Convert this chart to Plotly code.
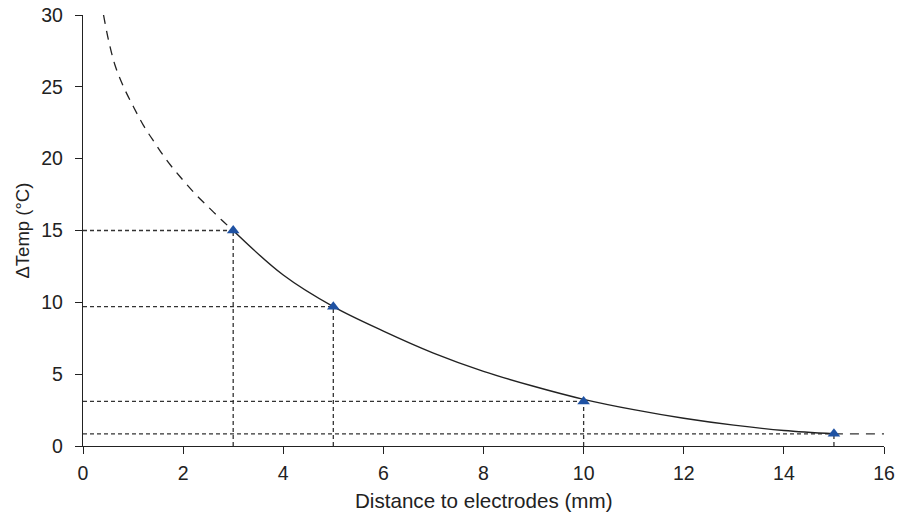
import plotly.graph_objects as go

# Measured temperature rise at each distance from the electrodes
distance_mm = [3, 5, 10, 15]
delta_temp = [15.0, 9.7, 3.1, 0.85]

# Fitted decay curve: extrapolated (near field), fitted, extrapolated (far field)
near_x = [0.41, 0.51, 0.64, 0.81, 1.01, 1.21, 1.44, 1.67, 1.94, 2.24, 2.5, 2.77, 3.0]
near_y = [30.0, 28.25, 26.5, 25.0, 23.6, 22.3, 21.07, 19.9, 18.74, 17.55, 16.65, 15.73, 15.0]
fit_x = [3.0, 4.0, 5.0, 6.0, 7.0, 8.0, 9.0, 10.0, 11.0, 12.0, 13.0, 14.0, 15.0]
fit_y = [15.0, 11.9, 9.7, 8.0, 6.47, 5.2, 4.16, 3.25, 2.53, 1.93, 1.45, 1.08, 0.85]
far_x = [15.0, 16.0]
far_y = [0.85, 0.85]

x_ticks = list(range(0, 17, 2))
y_ticks = list(range(0, 31, 5))

ink = "#222222"
guide = "#333333"
marker_blue = "#1f52a3"
family = "Liberation Sans, Arial, sans-serif"

fig = go.Figure()

# Dashed guide lines from each measurement to both axes
for xv, yv in zip(distance_mm, delta_temp):
    fig.add_trace(go.Scatter(
        x=[0, xv], y=[yv, yv], mode="lines",
        line=dict(color=guide, width=1.3, dash="4px,3px"),
        hoverinfo="skip", showlegend=False))
    fig.add_trace(go.Scatter(
        x=[xv, xv], y=[0, yv], mode="lines",
        line=dict(color=guide, width=1.3, dash="4px,3px"),
        hoverinfo="skip", showlegend=False))

# Extrapolated portions of the curve
fig.add_trace(go.Scatter(
    x=near_x, y=near_y, mode="lines", line_shape="spline",
    line=dict(color=ink, width=1.3, dash="9px,7px"), showlegend=False))
fig.add_trace(go.Scatter(
    x=far_x, y=far_y, mode="lines",
    line=dict(color=guide, width=1.3, dash="9px,7px"), showlegend=False))

# Fitted curve over the measured range
fig.add_trace(go.Scatter(
    x=fit_x, y=fit_y, mode="lines", line_shape="spline",
    line=dict(color=ink, width=1.4), showlegend=False))

# Measurements
fig.add_trace(go.Scatter(
    x=distance_mm, y=delta_temp, mode="markers",
    marker=dict(symbol="triangle-up", size=11, color=marker_blue),
    showlegend=False))

tick_font = dict(family=family, size=19.5, color=ink)

fig.update_layout(
    width=907, height=515,
    margin=dict(l=83, r=23, t=15, b=69),
    paper_bgcolor="white", plot_bgcolor="white",
    font=tick_font,
    xaxis=dict(
        range=[0, 16], tickvals=x_ticks, ticks="outside", ticklen=7,
        tickcolor=ink, tickwidth=1.3, showline=True, linecolor=ink, linewidth=1.3,
        showgrid=False, zeroline=False, tickfont=tick_font, ticklabelstandoff=2,
        automargin=False),
    yaxis=dict(
        range=[0, 30], tickvals=y_ticks, ticks="outside", ticklen=7,
        tickcolor=ink, tickwidth=1.3, showline=True, linecolor=ink, linewidth=1.3,
        showgrid=False, zeroline=False, tickfont=tick_font, ticklabelstandoff=8,
        automargin=False),
    annotations=[
        dict(text="Distance to electrodes (mm)", xref="paper", yref="paper",
             x=0.5, y=0, xanchor="center", yanchor="middle", yshift=-54,
             showarrow=False, font=dict(family=family, size=20.6, color=ink)),
        dict(text="ΔTemp (°C)", xref="paper", yref="paper",
             x=0, y=0.5, xanchor="center", yanchor="middle", xshift=-61,
             textangle=-90, showarrow=False,
             font=dict(family=family, size=18.5, color=ink)),
    ],
)

fig.write_html("out.html")
